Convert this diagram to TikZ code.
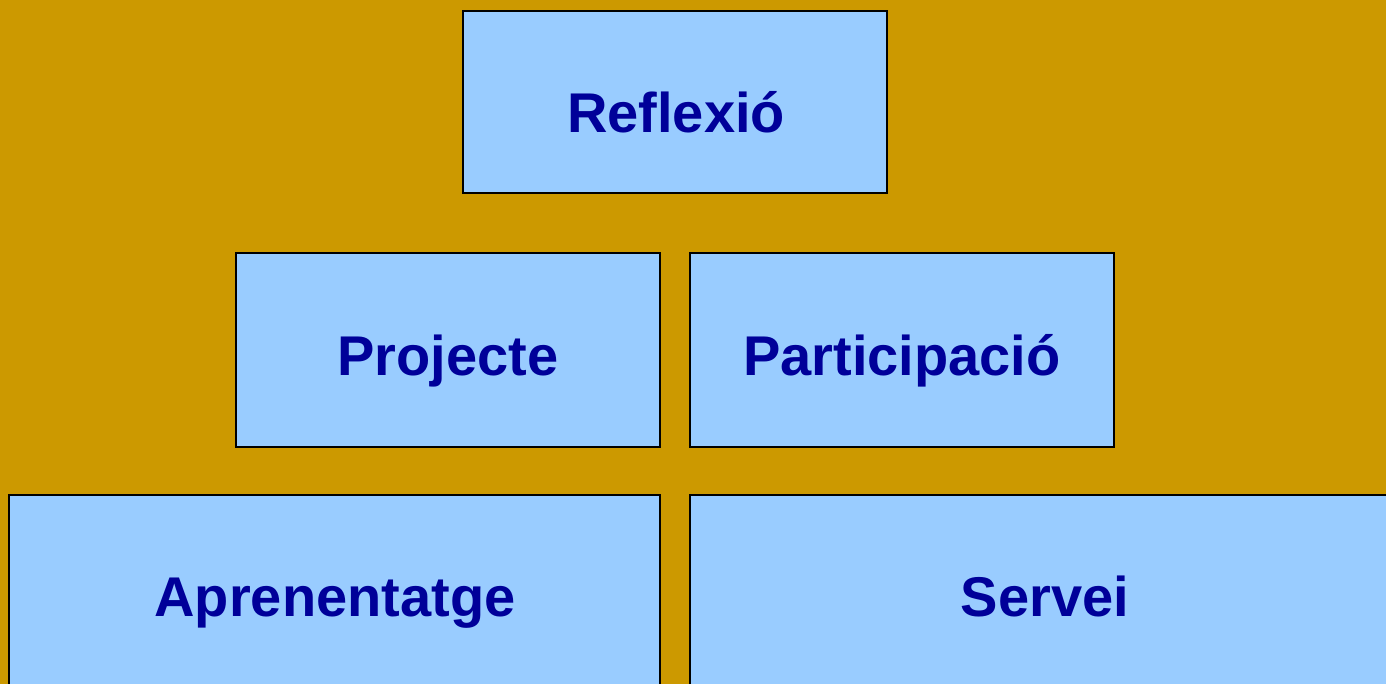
\documentclass[tikz,border=0pt]{standalone}
\usepackage{fontspec}
\setmainfont{Liberation Sans}
\definecolor{bgc}{HTML}{CC9900}
\definecolor{boxc}{HTML}{99CCFF}
\definecolor{txtc}{HTML}{000099}
\begin{document}
\begin{tikzpicture}[x=1pt,y=-1pt,
  boxstyle/.style={draw=black,line width=2pt,fill=boxc,inner sep=0pt},
  lbl/.style={anchor=base,text=txtc,font=\fontsize{56}{60}\selectfont\bfseries,inner sep=0pt}]
\useasboundingbox (0,0) rectangle (1386,684);
\clip (0,0) rectangle (1386,684);
\fill[bgc] (0,0) rectangle (1386,684);
\node[boxstyle,minimum width=424pt,minimum height=182pt] (b1) at (675,102) {};
\node[boxstyle,minimum width=424pt,minimum height=194pt] (b2) at (448,350) {};
\node[boxstyle,minimum width=424pt,minimum height=194pt] (b3) at (902,350) {};
\node[boxstyle,minimum width=651pt,minimum height=250pt] (b4) at (334.5,620) {};
\node[boxstyle,minimum width=710pt,minimum height=250pt] (b5) at (1045,620) {};
\node[lbl] (t1) at (676,133) {Reflexió};
\node[lbl] (t2) at (448,375) {Projecte};
\node[lbl] (t3) at (902,375) {Participació};
\node[lbl] (t4) at (335,616) {Aprenentatge};
\node[lbl] (t5) at (1045,616) {Servei};
\end{tikzpicture}
\end{document}
